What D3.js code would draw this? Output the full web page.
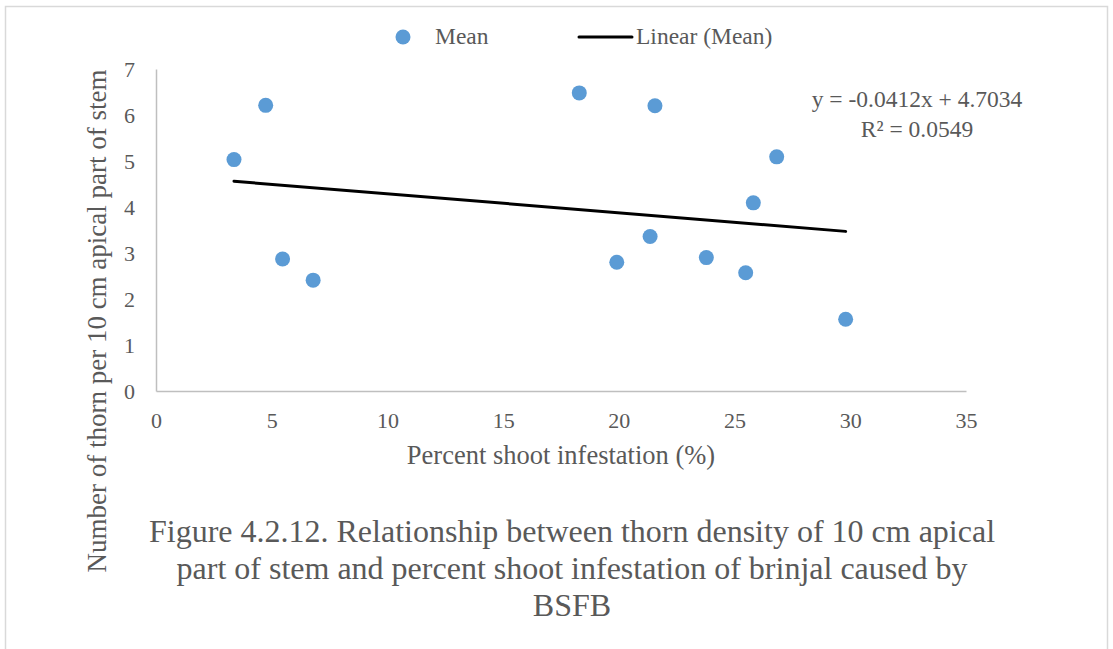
<!DOCTYPE html>
<html>
<head>
<meta charset="utf-8">
<script src="https://cdn.jsdelivr.net/npm/d3@7"></script>
<style>
  html, body { margin: 0; padding: 0; background: #fff; }
  svg { display: block; font-family: "Liberation Serif", "Times New Roman", serif; }
  svg text { font-family: "Liberation Serif", "Times New Roman", serif; }
</style>
</head>
<body>
<svg id="chart" width="1113" height="649"></svg>
<script>
// Thorn density vs percent shoot infestation (brinjal, BSFB)
const shootInfestation = [3.37, 4.74, 5.47, 6.79, 18.29, 19.91, 21.35, 21.56, 23.78, 25.48, 25.81, 26.82, 29.80];
const thornCount       = [5.03, 6.21, 2.87, 2.41, 6.48, 2.80, 3.36, 6.20, 2.90, 2.57, 4.09, 5.09, 1.56];

// Linear (Mean) trendline ends
const trendX = [3.37, 29.80];
const trendY = [4.56, 3.47];

const xTicks = [0, 5, 10, 15, 20, 25, 30, 35];
const yTicks = [0, 1, 2, 3, 4, 5, 6, 7];

const equationLines = ["y = -0.0412x + 4.7034", "R² = 0.0549"];
const captionLines = [
  "Figure 4.2.12. Relationship between thorn density of 10 cm apical",
  "part of stem and percent shoot infestation of brinjal caused by",
  "BSFB"
];

const TEXT = "#595959";
const AXIS = "#bfbfbf";
const DOT  = "#5b9bd5";

const svg = d3.select("#chart");

// outer chart border
svg.append("rect")
  .attr("x", 5.5).attr("y", 6.5)
  .attr("width", 1102).attr("height", 700)
  .attr("fill", "none")
  .attr("stroke", "#d9d9d9")
  .attr("stroke-width", 1.5);

const x = d3.scaleLinear().domain([0, 35]).range([156, 966]);
const y = d3.scaleLinear().domain([0, 7]).range([391, 69]);

// axes
const xAxisG = svg.append("g")
  .attr("transform", `translate(0,${y(0)})`)
  .call(d3.axisBottom(x).tickValues(xTicks).tickFormat(d3.format("d")).tickSize(0).tickPadding(21))
  .attr("font-family", null)
  .attr("font-size", null);
xAxisG.select(".domain").attr("stroke", AXIS).attr("stroke-width", 1.5);
xAxisG.selectAll("text")
  .attr("fill", TEXT)
  .attr("font-size", "22px");

const yAxisG = svg.append("g")
  .attr("transform", `translate(${x(0)},0)`)
  .call(d3.axisLeft(y).tickValues(yTicks).tickFormat(d3.format("d")).tickSize(0).tickPadding(21))
  .attr("font-family", null)
  .attr("font-size", null);
yAxisG.select(".domain").attr("stroke", AXIS).attr("stroke-width", 1.5);
yAxisG.selectAll("text")
  .attr("fill", TEXT)
  .attr("font-size", "22px");

// points
const points = shootInfestation.map((v, i) => ({ x: v, y: thornCount[i] }));
svg.append("g").selectAll("circle")
  .data(points)
  .join("circle")
    .attr("cx", d => x(d.x))
    .attr("cy", d => y(d.y))
    .attr("r", 7.5)
    .attr("fill", DOT);

// trendline
svg.append("line")
  .attr("x1", x(trendX[0])).attr("y1", y(trendY[0]))
  .attr("x2", x(trendX[1])).attr("y2", y(trendY[1]))
  .attr("stroke", "#000")
  .attr("stroke-width", 3)
  .attr("stroke-linecap", "round");

// equation
svg.append("g").selectAll("text")
  .data(equationLines)
  .join("text")
    .attr("x", 917)
    .attr("y", (d, i) => 107 + i * 30)
    .attr("text-anchor", "middle")
    .attr("fill", TEXT)
    .attr("font-size", "23.5px")
    .text(d => d);

// legend
const legend = svg.append("g");
legend.append("circle")
  .attr("cx", 403).attr("cy", 37).attr("r", 7.5)
  .attr("fill", DOT);
legend.append("text")
  .attr("x", 435).attr("y", 44)
  .attr("fill", TEXT).attr("font-size", "23.5px")
  .text("Mean");
legend.append("line")
  .attr("x1", 579).attr("x2", 632)
  .attr("y1", 37).attr("y2", 37)
  .attr("stroke", "#000").attr("stroke-width", 3)
  .attr("stroke-linecap", "round");
legend.append("text")
  .attr("x", 636).attr("y", 44)
  .attr("fill", TEXT).attr("font-size", "23.5px")
  .text("Linear (Mean)");

// axis titles
svg.append("text")
  .attr("x", (x(0) + x(35)) / 2)
  .attr("y", 464)
  .attr("text-anchor", "middle")
  .attr("fill", TEXT)
  .attr("font-size", "26.5px")
  .text("Percent shoot infestation (%)");

svg.append("text")
  .attr("transform", "translate(106,321) rotate(-90)")
  .attr("text-anchor", "middle")
  .attr("fill", TEXT)
  .attr("font-size", "27px")
  .text("Number of thorn per 10 cm apical part of stem");

// caption
svg.append("g").selectAll("text")
  .data(captionLines)
  .join("text")
    .attr("x", 572)
    .attr("y", (d, i) => 542 + i * 37)
    .attr("text-anchor", "middle")
    .attr("fill", TEXT)
    .attr("font-size", "32px")
    .text(d => d);
</script>
</body>
</html>
